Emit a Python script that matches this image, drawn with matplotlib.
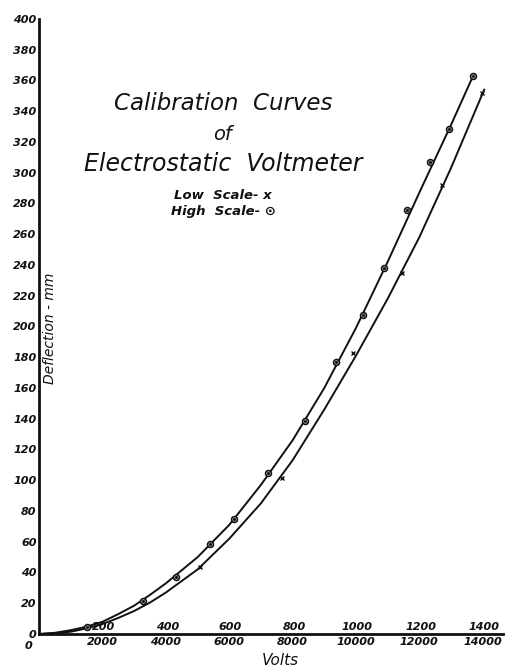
import matplotlib
matplotlib.use("Agg")
import matplotlib.pyplot as plt

# readings off the hand-drawn sheet (volts, deflection in mm)
HIGH_V = [1500, 3260, 4320, 5390, 6160, 7235, 8395, 9370, 10220, 10900,
          11600, 12340, 12930, 13690]
HIGH_D = [4.5, 21.5, 37, 58.5, 75, 104.5, 138.7, 176.7, 207.4, 237.9,
          275.9, 306.9, 328.2, 362.8]
LOW_V = [5070, 7650, 9915, 11445, 12710, 13990]
LOW_D = [43.4, 101.2, 182.6, 234.7, 292.1, 351.8]

# the two drawn curves, read along their length
CURVE_HIGH_V = [0, 500, 1000, 1500, 2000, 2500, 3000, 3500, 4000, 5000,
                6000, 7000, 8000, 9000, 10000, 11000, 12000, 13000, 13700]
CURVE_HIGH_D = [0, 0.8, 2.5, 4.8, 8, 13, 18.5, 25.5, 33, 50,
                71, 97, 126, 160, 199, 242, 287, 331, 363]
CURVE_LOW_V = [0, 500, 1000, 1500, 2000, 2500, 3000, 3500, 4000, 5000,
               6000, 7000, 8000, 9000, 10000, 11000, 12000, 13000, 14050]
CURVE_LOW_D = [0, 0.5, 1.5, 3.7, 6.5, 10.5, 15, 20.5, 27, 42,
               62, 85, 113, 146, 181, 218, 258, 303, 354]

Y_TICKS = list(range(0, 401, 20))
X_TICKS = [2000, 4000, 6000, 8000, 10000, 12000, 14000]
X_LOW_LABELS = ["200", "400", "600", "800", "1000", "1200", "1400"]

INK = "#111111"

fig = plt.figure(figsize=(5.05, 6.68), dpi=100)
ax = fig.add_axes([0.0778, 0.0509, 0.918, 0.9207])
ax.set_xlim(0, 14640)
ax.set_ylim(0, 400)

ax.plot(CURVE_HIGH_V, CURVE_HIGH_D, color=INK, lw=1.4)
ax.plot(CURVE_LOW_V, CURVE_LOW_D, color=INK, lw=1.4)
ax.plot(HIGH_V, HIGH_D, ls="none", marker="o", ms=4.2, mfc="white",
        mec=INK, mew=1.2, zorder=4)
ax.plot(HIGH_V, HIGH_D, ls="none", marker="o", ms=1.3, color=INK, zorder=5)
ax.plot(LOW_V, LOW_D, ls="none", marker="x", ms=3, mew=1.0, color=INK,
        zorder=4)

for s in ("top", "right"):
    ax.spines[s].set_visible(False)
for s in ("left", "bottom"):
    ax.spines[s].set_linewidth(2.0)
    ax.spines[s].set_color(INK)

tick_font = dict(fontsize=8, fontstyle="italic", fontweight="bold", color=INK)
ax.set_yticks(Y_TICKS)
ax.set_yticklabels([str(v) for v in Y_TICKS], **tick_font)
ax.set_xticks(X_TICKS)
ax.set_xticklabels([str(v) for v in X_TICKS], **tick_font)
ax.tick_params(axis="both", length=0, pad=2)

# zero label at the corner
ax.text(-0.014, -0.012, "0", transform=ax.transAxes, ha="right", va="top",
        **tick_font)

# low-scale labels sitting on the axis
for v, s in zip(X_TICKS, X_LOW_LABELS):
    ax.text(v + 40, 1.2, s, ha="center", va="bottom", **tick_font)

ax.text(7600, -17, "Volts", ha="center", va="center", fontsize=11,
        fontstyle="italic", color=INK, clip_on=False)
ax.text(330, 199, "Deflection - mm", rotation=90, ha="center", va="center",
        fontsize=10, fontstyle="italic", color=INK)

ax.text(5800, 345, "Calibration  Curves", ha="center", va="center",
        fontsize=16.5, fontstyle="italic", color=INK)
ax.text(5800, 325, "of", ha="center", va="center",
        fontsize=14, fontstyle="italic", color=INK)
ax.text(5800, 306, "Electrostatic  Voltmeter", ha="center", va="center",
        fontsize=17, fontstyle="italic", color=INK)
ax.text(5800, 285, "Low  Scale- x", ha="center", va="center",
        fontsize=9.5, fontstyle="italic", fontweight="bold", color=INK)
ax.text(5800, 275, "High  Scale- \u2299", ha="center", va="center",
        fontsize=9.5, fontstyle="italic", fontweight="bold", color=INK)

fig.savefig("out.png", dpi=100, facecolor="white")
